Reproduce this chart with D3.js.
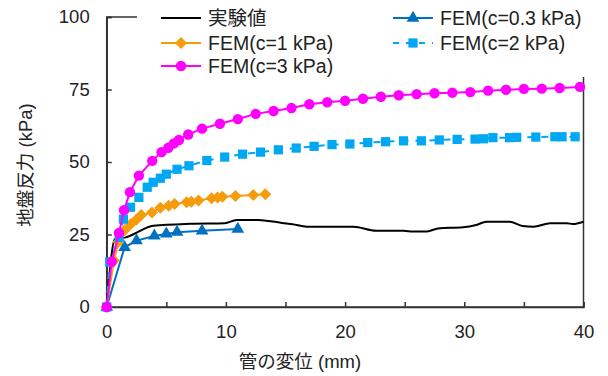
<!DOCTYPE html>
<html>
<head>
<meta charset="utf-8">
<script src="https://cdn.jsdelivr.net/npm/d3@7"></script>
<style>
  body { margin: 0; background: #fff; }
  text { font-family: "Liberation Sans", Arial, "Noto Sans CJK JP", sans-serif; }
</style>
</head>
<body>
<div id="chart"></div>
<script>
// values
const xTicks = [0, 10, 20, 30, 40];
const yTicks = [0, 25, 50, 75, 100];

// 実験値 (experiment)
const expX = [0, 0.7, 1.6, 2.2, 3.9, 7.0, 9.9, 10.9, 12.7, 14.5, 15.6, 16.8, 18.7, 20.7, 22.6, 24.9, 25.7, 26.8, 27.8, 29.9, 31.0, 31.85, 33.8, 34.9, 35.8, 37.2, 38.6, 39.1, 40];
const expY = [0, 23.5, 24.0, 25.0, 28.0, 28.7, 28.9, 30.0, 30.0, 29.1, 28.5, 27.7, 27.7, 27.7, 26.3, 26.3, 26.0, 26.0, 27.1, 27.5, 28.3, 29.4, 29.4, 27.9, 27.7, 28.9, 28.9, 28.6, 29.4];

// FEM(c=0.3 kPa)
const c03X = [0, 1.5, 2.5, 4.0, 5.0, 5.9, 8.0, 11.0];
const c03Y = [0, 20.6, 22.9, 24.5, 25.2, 25.8, 26.3, 26.9];

// FEM(c=1 kPa)
const c1X = [0, 0.6, 1.0, 1.5, 2.0, 2.5, 2.9, 3.8, 4.5, 5.2, 5.7, 6.7, 7.1, 7.7, 8.8, 9.3, 9.7, 10.8, 12.3, 13.3];
const c1Y = [0, 16.0, 22.5, 26.5, 28.5, 30.2, 31.7, 32.6, 34.2, 34.9, 35.5, 36.1, 36.3, 36.7, 37.5, 37.8, 38.0, 38.3, 38.6, 38.9];

// FEM(c=2 kPa)
const c2X = [0, 0.25, 1.05, 1.4, 2.0, 2.7, 3.4, 3.9, 4.5, 5.0, 5.9, 6.9, 8.4, 9.9, 11.4, 12.9, 14.4, 15.9, 17.4, 18.9, 20.4, 21.9, 23.4, 24.9, 26.4, 27.9, 29.4, 30.9, 31.6, 32.4, 33.8, 34.4, 36.0, 37.6, 38.2, 39.3];
const c2Y = [0, 15.5, 24.0, 30.3, 34.4, 37.8, 41.3, 43.0, 44.4, 45.8, 47.5, 48.7, 50.5, 51.7, 52.7, 53.4, 54.2, 54.8, 55.4, 56.0, 56.2, 56.7, 57.0, 57.3, 57.3, 57.6, 57.8, 57.9, 58.0, 58.4, 58.4, 58.5, 58.6, 58.7, 58.7, 58.7];

// FEM(c=3 kPa)
const c3X = [0, 0.42, 1.03, 1.45, 1.95, 2.7, 3.82, 4.6, 5.17, 5.64, 6.06, 6.84, 8.0, 9.5, 11.0, 12.5, 14.0, 15.5, 17.0, 18.5, 20.0, 21.5, 23.0, 24.5, 26.0, 27.5, 29.0, 30.5, 32.0, 33.5, 35.0, 36.5, 38.0, 39.7];
const c3Y = [0, 15.6, 25.5, 33.4, 39.6, 45.3, 50.4, 53.4, 54.9, 56.4, 57.6, 59.5, 61.5, 63.2, 64.8, 66.6, 67.6, 68.6, 69.9, 70.6, 71.1, 71.8, 72.5, 73.0, 73.4, 73.7, 73.9, 74.1, 74.6, 74.9, 75.2, 75.3, 75.5, 75.9];

const W = 608, H = 376;
const margin = { left: 106.7, right: 608 - 583.5, top: 17, bottom: 376 - 307 };
const iw = W - margin.left - margin.right;
const ih = H - margin.top - margin.bottom;

const zip = (xs, ys) => xs.map((x, i) => ({ x: x, y: ys[i] }));

const series = [
  { name: "実験値", data: zip(expX, expY), color: "#000000", marker: null, dash: null, smooth: true },
  { name: "FEM(c=0.3 kPa)", data: zip(c03X, c03Y), color: "#0070C0", marker: "triangle", dash: null },
  { name: "FEM(c=1 kPa)", data: zip(c1X, c1Y), color: "#F59B0C", marker: "diamond", dash: null },
  { name: "FEM(c=2 kPa)", data: zip(c2X, c2Y), color: "#00A8F3", marker: "square", dash: "7,7" },
  { name: "FEM(c=3 kPa)", data: zip(c3X, c3Y), color: "#FF00FF", marker: "circle", dash: null }
];

const svg = d3.select("#chart").append("svg")
  .attr("width", W).attr("height", H);

const g = svg.append("g").attr("transform", `translate(${margin.left},${margin.top})`);

const x = d3.scaleLinear().domain([0, 40]).range([0, iw]);
const y = d3.scaleLinear().domain([0, 100]).range([ih, 0]);

// plot area border
g.append("rect")
  .attr("width", iw).attr("height", ih)
  .attr("fill", "none").attr("stroke", "#333").attr("stroke-width", 1.5);

// axes (ticks point inward)
const xAxis = g.append("g").attr("transform", `translate(0,${ih})`)
  .call(d3.axisBottom(x).tickValues(d3.range(0, 41, 5)).tickSize(-5).tickPadding(18)
    .tickFormat(d => xTicks.includes(d) ? d : ""));
const yAxis = g.append("g")
  .call(d3.axisLeft(y).tickValues(yTicks).tickSize(-5).tickPadding(17));

[xAxis, yAxis].forEach(a => {
  a.select(".domain").attr("stroke", "#333").attr("stroke-width", 1.5);
  a.selectAll(".tick line").attr("stroke", "#333").attr("stroke-width", 1.5);
  a.selectAll(".tick text").attr("fill", "#222").style("font-size", "18.5px");
});

// marker shapes; the diamond is a square turned 45 degrees, like Excel's
const markerPath = {
  triangle: d3.symbol().type(d3.symbolTriangle).size(70)(),
  diamond: "M0,-6L6,0L0,6L-6,0Z",
  square: d3.symbol().type(d3.symbolSquare).size(85)(),
  circle: d3.symbol().type(d3.symbolCircle).size(85)()
};

function drawMarker(sel, s) {
  sel.append("path").attr("d", markerPath[s.marker]).attr("fill", s.color).attr("stroke", "none");
}

series.forEach(s => {
  const line = d3.line().x(d => x(d.x)).y(d => y(d.y));
  if (s.smooth) line.curve(d3.curveMonotoneX);
  g.append("path").datum(s.data)
    .attr("d", line)
    .attr("fill", "none")
    .attr("stroke", s.color)
    .attr("stroke-width", 2)
    .attr("stroke-dasharray", s.dash);
  if (s.marker) {
    g.selectAll(null).data(s.data).enter().append("g")
      .attr("transform", d => `translate(${x(d.x)},${y(d.y)})`)
      .each(function() { drawMarker(d3.select(this), s); });
  }
});

// legend with white background over the plot border
const legend = svg.append("g");
legend.append("rect")
  .attr("x", 137).attr("y", 0).attr("width", 460).attr("height", 77)
  .attr("fill", "#fff");

const legendPos = [
  { col: 0, row: 0 }, { col: 1, row: 0 }, { col: 0, row: 1 }, { col: 1, row: 1 }, { col: 0, row: 2 }
];
const colX = [161, 393];
const rowY = [18, 43, 66];

series.forEach((s, i) => {
  const p = legendPos[i];
  const lx = colX[p.col], ly = rowY[p.row];
  const item = legend.append("g");
  item.append("line")
    .attr("x1", lx).attr("x2", lx + 40).attr("y1", ly).attr("y2", ly)
    .attr("stroke", s.color).attr("stroke-width", 2)
    .attr("stroke-dasharray", s.dash ? "6,7" : null);
  if (s.marker) {
    const mg = item.append("g").attr("transform", `translate(${lx + 20},${ly})`);
    drawMarker(mg, s);
  }
  item.append("text")
    .attr("x", lx + 47).attr("y", ly).attr("dy", "0.35em")
    .attr("fill", "#222").style("font-size", "19.5px")
    .text(s.name);
});

// axis titles
svg.append("text")
  .attr("x", 300).attr("y", 368)
  .attr("text-anchor", "middle").attr("fill", "#222").style("font-size", "18.5px")
  .text("管の変位 (mm)");

svg.append("text")
  .attr("transform", "translate(32,165) rotate(-90)")
  .attr("text-anchor", "middle").attr("fill", "#222").style("font-size", "18.5px")
  .text("地盤反力 (kPa)");
</script>
</body>
</html>
